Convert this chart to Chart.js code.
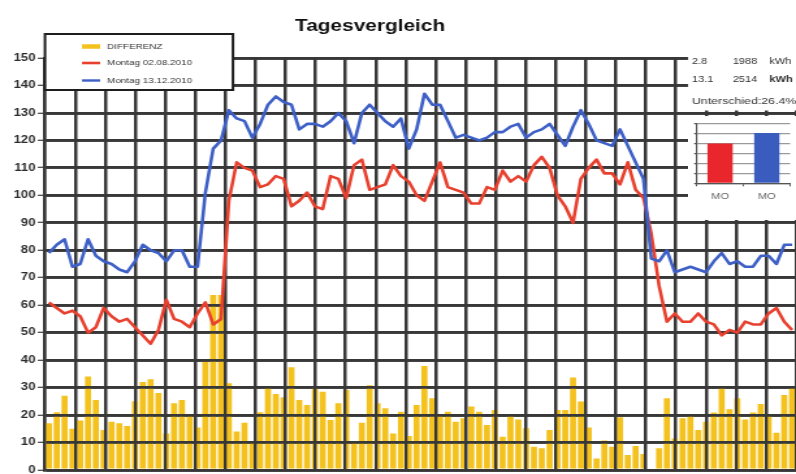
<!DOCTYPE html>
<html><head><meta charset="utf-8">
<script src="https://cdn.jsdelivr.net/npm/chart.js@4.4.1/dist/chart.umd.min.js"></script>
<style>
html,body{margin:0;padding:0;background:#fff;overflow:hidden;}
#wrap{position:relative;width:796px;height:474px;overflow:hidden;background:#fff;}
#main{position:absolute;left:0;top:0;display:block;filter:blur(0.35px);}
#inset{position:absolute;left:688px;top:116px;background:#fff;display:block;filter:blur(0.35px);}
</style></head><body>
<div id="wrap">
<canvas id="main" width="612" height="474" style="width:796px;height:474px"></canvas>
<canvas id="inset" width="83" height="104" style="width:108px;height:104px"></canvas>
</div>
<script>
// ---- data ----
const titleText = 'Tagesvergleich';
const seriesLabels = ['DIFFERENZ', 'Montag 02.08.2010', 'Montag 13.12.2010'];
const yMin = 0, yMax = 150, yStep = 10;
const hoursPerDay = 24;

const differenz = [17,21,27,15, 18,34,25.5,14.6, 17.6,17,16,25, 32,33,28,13.3, 24.3,25.5,20,15.5, 39.4,63.7,63.7,31.6,
  14,17.2,10.3,21, 30,27.7,26.5,37.4, 25.5,23.7,29.7,28.5, 18.2,24.3,29.1,10, 17.2,30.9,24.3,22.5, 13.3,21.2,12.4,23.7,
  37.9,26.1,20,21.2, 17.6,18.8,23.1,21.2, 16.4,21.8,12.1,20, 18.4,15.2,8.5,7.9, 14.6,21.8,21.8,33.7, 24.9,15.5,4.2,10.7,
  8.5,19.2,5.5,8.7, 5.8,0,7.9,26.1, 11.5,18.8,20.4,14.6, 17.6,20.9,30.1,22.1, 26.1,18.4,20.9,24, 19.7,13.6,27.3,30.1];

const montag0208 = [61,59,57,58, 56,50,52,59, 56,54,55,52, 49,46,51,62, 55,54,52,57, 61,53,55,98,
  112,110,109,103, 104,107,106,96, 98,101,96,95, 107,106,99,111, 113,102,103,104, 111,107,105,100,
  98,105,112,103, 102,101,97,97, 103,102,109,105, 107,105,111,114, 110,100,96,90, 106,110,113,108,
  108,104,112,102, 99,86,67,54, 57,54,54,57, 54,53,49,51, 50,54,53,53, 57,59,54,51];

const montag1312 = [79,82,84,74, 75,84,78,76, 75,73,72,76, 82,80,79,76, 80,80,74,74, 101,117,120,131,
  128,127,121,126, 133,136,134,133, 124,126,126,125, 127,130,127,119, 130,133,130,127, 125,128,117,124,
  137,133,133,127, 121,122,121,120, 121,123,123,125, 126,121,123,124, 126,122,118,125, 131,126,120,119,
  118,124,118,112, 106,77,76,80, 72,73,74,73, 72,76,79,75, 76,74,74,78, 78,75,82,82];

const summaryDays = ['2.8', '13.1'];
const summaryKwh = [1988, 2514];
const summaryUnit = 'kWh';
const diffText = 'Unterschied:26.4%';
const insetLabels = ['MO', 'MO'];
const insetMax = 3000, insetStep = 500;

const timeLabels = [];
for (let h = 0; h < hoursPerDay; h++) for (let q = 0; q < 4; q++)
  timeLabels.push(String(h).padStart(2, '0') + ':' + String(q * 15).padStart(2, '0'));

// ---- style ----
const FONT = '"Liberation Sans", Arial, Helvetica, sans-serif';
const GRID = '#383838';
const C_YEL = '#F4C21E', C_RED = '#E8402E', C_BLUE = '#3D5FC6';

const gridOver = {
  id: 'gridOver',
  afterDatasetDraw(chart, args) {
    if (args.index !== 0) return;
    const ca = chart.chartArea;
    chart.scales.xg.drawGrid(ca);
    chart.scales.y.drawGrid(ca);
  }
};
const titleShift = {
  id: 'titleShift',
  afterLayout(chart) {
    const t = chart.titleBlock;
    if (t) { t.left = 284.5 - 150; t.right = 284.5 + 150; }
  }
};
const overlay = {
  id: 'overlay',
  afterDraw(chart) {
    const ctx = chart.ctx;
    ctx.save();
    // legend box
    const x0 = 34.6, y0 = 34, w = 144.5, h = 56;
    ctx.fillStyle = '#fff'; ctx.fillRect(x0, y0, w, h);
    ctx.strokeStyle = '#1e1e1e'; ctx.lineWidth = 2; ctx.strokeRect(x0, y0, w, h);
    const rows = [46.5, 63, 80.5];
    const widths = [4.5, 2.6, 2.4];
    chart.data.datasets.forEach((ds, i) => {
      ctx.strokeStyle = ds.type === 'bar' ? ds.backgroundColor : ds.borderColor;
      ctx.lineWidth = widths[i];
      ctx.beginPath(); ctx.moveTo(63, rows[i]); ctx.lineTo(77, rows[i]); ctx.stroke();
      ctx.fillStyle = '#333'; ctx.font = '7.6px ' + FONT; ctx.textBaseline = 'middle'; ctx.textAlign = 'left';
      ctx.fillText(ds.label, 82.3, rows[i]);
    });
    // summary panel
    ctx.fillStyle = '#fff'; ctx.fillRect(529, 0, 83, 110.5);
    ctx.fillStyle = '#333'; ctx.textBaseline = 'middle';
    const ry = [61.7, 79.3];
    for (let i = 0; i < 2; i++) {
      ctx.font = '8.5px ' + FONT; ctx.textAlign = 'left';
      ctx.fillText(summaryDays[i], 532, ry[i]);
      ctx.textAlign = 'right';
      ctx.fillText(String(summaryKwh[i]), 582.3, ry[i]);
      ctx.textAlign = 'left';
      ctx.font = (i === 1 ? 'bold ' : '') + '8.5px ' + FONT;
      ctx.fillText(summaryUnit, 591.5, ry[i]);
    }
    ctx.font = '9.5px ' + FONT; ctx.textAlign = 'left';
    ctx.fillText(diffText, 532, 101.7);
    ctx.restore();
  }
};

new Chart(document.getElementById('main'), {
  type: 'bar',
  data: {
    labels: timeLabels,
    datasets: [
      { type: 'bar', label: seriesLabels[0], data: differenz, backgroundColor: C_YEL, borderWidth: 0,
        categoryPercentage: 1, barPercentage: 0.78, order: 2 },
      { type: 'line', label: seriesLabels[1], data: montag0208, borderColor: C_RED, borderWidth: 2.6,
        pointRadius: 0, tension: 0, fill: false, order: 1, borderJoinStyle: 'round' },
      { type: 'line', label: seriesLabels[2], data: montag1312, borderColor: C_BLUE, borderWidth: 2.6,
        pointRadius: 0, tension: 0, fill: false, order: 0, borderJoinStyle: 'round' }
    ]
  },
  options: {
    responsive: false, animation: false, devicePixelRatio: 1,
    layout: { padding: 0 },
    plugins: {
      legend: { display: false }, tooltip: { enabled: false },
      title: { display: true, text: titleText, color: '#111',
        font: { family: FONT, size: 16, weight: 'bold' }, padding: { top: 17, bottom: 21.8 } }
    },
    scales: {
      x: { type: 'category', display: false, offset: true },
      xg: { type: 'linear', position: 'bottom', min: 0, max: hoursPerDay,
        ticks: { display: false, stepSize: 1 },
        grid: { color: GRID, lineWidth: 2.3, drawTicks: false },
        border: { display: false },
        afterFit(s) { s.height = 4; s.paddingLeft = 0; s.paddingRight = 0; } },
      y: { min: yMin, max: yMax,
        ticks: { stepSize: yStep, color: '#2a2a2a', padding: 2, font: { family: FONT, size: 10, weight: 'bold' } },
        grid: { color: GRID, lineWidth: 2.8, tickLength: 5.4, tickColor: '#555', tickWidth: 1.2 },
        border: { display: true, color: GRID, width: 2.4 },
        afterFit(s) { s.width = 34.6; s.paddingTop = 0; s.paddingBottom = 0; } }
    }
  },
  plugins: [gridOver, titleShift, overlay]
});

new Chart(document.getElementById('inset'), {
  type: 'bar',
  data: {
    labels: insetLabels,
    datasets: [{ data: summaryKwh, backgroundColor: ['#E8262B', '#3A5CBF'], borderWidth: 0,
      categoryPercentage: 1, barPercentage: 0.54 }]
  },
  options: {
    responsive: false, animation: false, devicePixelRatio: 1,
    layout: { padding: { top: 7.3, right: 4.5, left: 0, bottom: 0 } },
    plugins: { legend: { display: false }, tooltip: { enabled: false }, title: { display: false } },
    scales: {
      x: { grid: { display: true, drawOnChartArea: false, tickLength: 3, color: '#555', offset: true },
        border: { color: '#555', width: 1.2 },
        ticks: { color: '#666', padding: 5, font: { family: FONT, size: 8.5 } },
        afterFit(s) { s.height = 36.7; s.paddingLeft = 0; s.paddingRight = 0; } },
      y: { min: 0, max: insetMax, ticks: { display: false, stepSize: insetStep },
        grid: { color: '#9a9a9a', lineWidth: 1.2, tickLength: 2, tickColor: '#555' },
        border: { color: '#555', width: 1.2 },
        afterFit(s) { s.width = 6.7; s.paddingTop = 0; s.paddingBottom = 0; } }
    }
  }
});
</script>
</body></html>
